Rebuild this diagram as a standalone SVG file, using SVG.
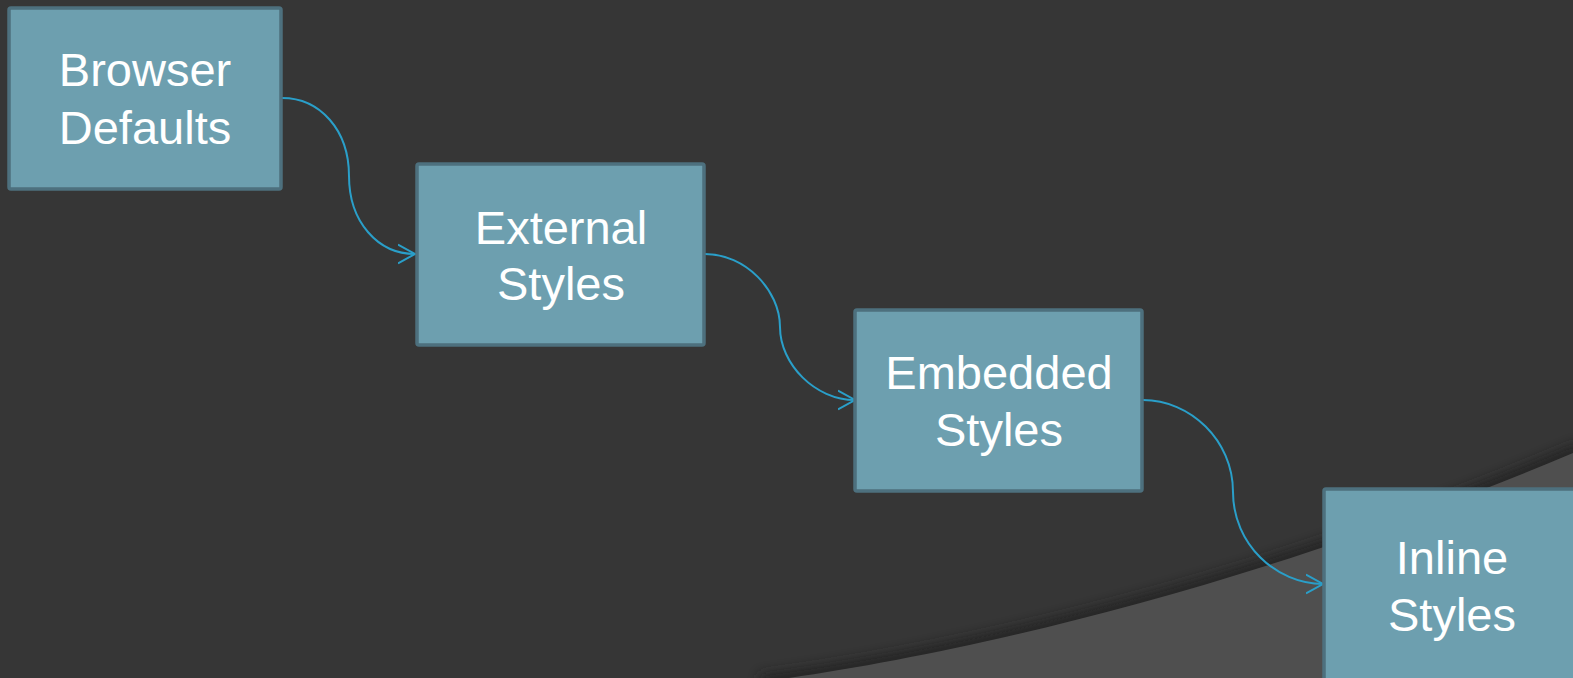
<svg xmlns="http://www.w3.org/2000/svg" width="1573" height="678" viewBox="0 0 1573 678">
<style>
.box{fill:#6d9faf;stroke:#4d707e;stroke-width:3.5}
.lbl{font-family:"Liberation Sans",Arial,sans-serif;font-size:47px;fill:#ffffff;text-anchor:middle}
.conn{fill:none;stroke:#2a9fc9;stroke-width:2}
</style>
<defs>
<marker id="arr" markerWidth="20" markerHeight="24" refX="17" refY="10" orient="auto" markerUnits="userSpaceOnUse" viewBox="0 0 20 20">
<path d="M0,0.5 L17,10 L0,19.5" fill="none" stroke="#2a9fc9" stroke-width="2"/>
</marker>
<filter id="blur" x="-10%" y="-50%" width="120%" height="200%"><feGaussianBlur stdDeviation="6"/></filter>
</defs>
<rect width="1573" height="678" fill="#363636"/>
<path d="M760,682 C950,657 1250,590 1580,450" fill="none" stroke="#232323" stroke-width="14" filter="url(#blur)" opacity="0.85"/>
<path d="M760,682 C950,657 1250,590 1580,450 L1580,690 L760,690 Z" fill="#4f4f4f"/>
<g id="connectors">
<path class="conn" d="M282,98 C320,98 349,130 349,176 C349,222 378,254 415,254" marker-end="url(#arr)"/>
<path class="conn" d="M705,254 C745,254 780,290 780,327 C780,364 815,400 855,400" marker-end="url(#arr)"/>
<path class="conn" d="M1143,400 C1190,400 1233,440 1233,492 C1233,544 1276,584 1323,584" marker-end="url(#arr)"/>
</g>
<g id="node-browser-defaults">
<rect class="box" x="9" y="8" width="272" height="181" rx="2"/>
<text class="lbl" x="145" y="86">Browser</text>
<text class="lbl" x="145" y="144">Defaults</text>
</g>
<g id="node-external-styles">
<rect class="box" x="417" y="164" width="287" height="181" rx="2"/>
<text class="lbl" x="561" y="244">External</text>
<text class="lbl" x="561" y="300">Styles</text>
</g>
<g id="node-embedded-styles">
<rect class="box" x="855" y="310" width="287" height="181" rx="2"/>
<text class="lbl" x="999" y="389">Embedded</text>
<text class="lbl" x="999" y="446">Styles</text>
</g>
<g id="node-inline-styles">
<rect class="box" x="1324" y="489" width="288" height="210" rx="2"/>
<text class="lbl" x="1452" y="574">Inline</text>
<text class="lbl" x="1452" y="631">Styles</text>
</g>
</svg>
